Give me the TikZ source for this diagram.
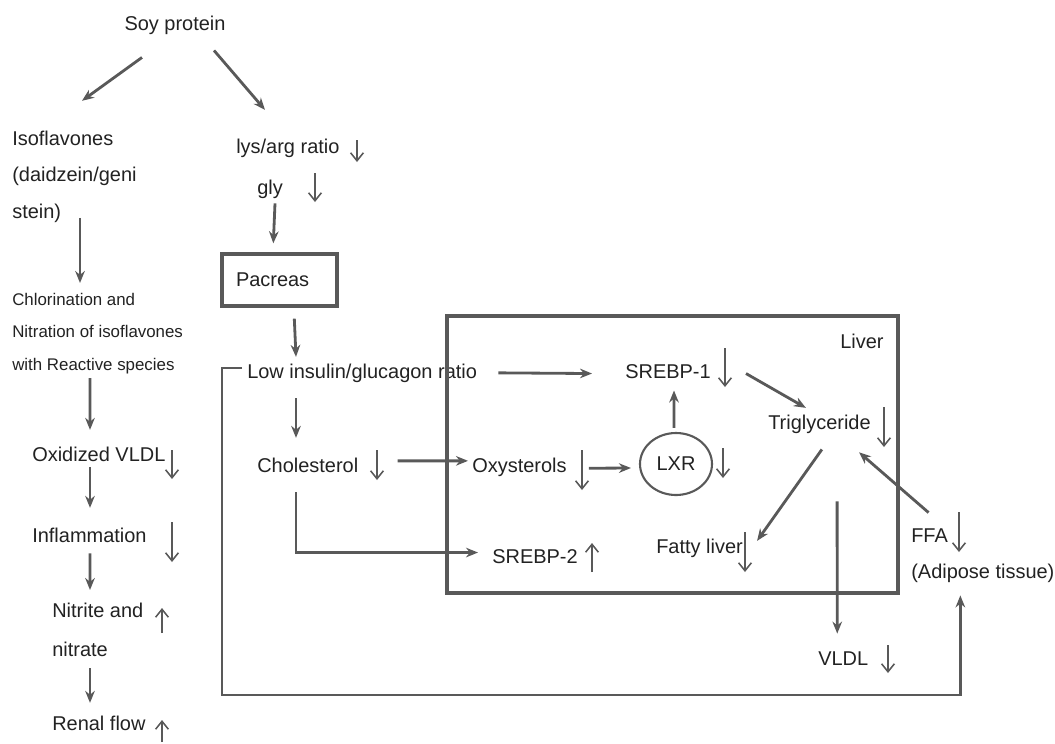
\documentclass[tikz,border=0pt]{standalone}
\usepackage{fontspec}
\setmainfont{Liberation Sans}
\usepackage{tikz}
\usetikzlibrary{arrows.meta,shapes.geometric}
\definecolor{ink}{RGB}{89,89,89}
\definecolor{txtc}{RGB}{34,34,34}

\begin{document}
\begin{tikzpicture}[
  txt/.style={font=\fontsize{14.2}{25.9}\selectfont, text=txtc, inner sep=0pt, align=left},
  small/.style={font=\fontsize{12}{23.1}\selectfont, text=txtc, inner sep=0pt, align=left},
  box/.style={draw=ink, line width=2.4pt, font=\fontsize{14.2}{17}\selectfont, text=txtc, align=left, text width=2.175cm, inner xsep=0.35cm, minimum height=1.3cm},
  arr/.style={-{Stealth[length=3mm,width=2.4mm]}, draw=ink, line width=2pt},
  mk/.style={-{Straight Barb[length=2mm,width=3.2mm]}, draw=ink, line width=1.1pt}]
  \useasboundingbox (0,0) rectangle (26.375,-18.575);
  % left branch
  \node[txt, anchor=base] (soy) at (4.375,-0.75) {Soy protein};
  \node[txt, anchor=north west] (iso) at (0.3,-3.27) {Isoflavones\\(daidzein/geni\\stein)};
  \node[small, anchor=north west] (chl) at (0.3,-7.325) {Chlorination and\\Nitration of isoflavones\\with Reactive species};
  \node[txt, anchor=base west] (oxv) at (0.8,-11.525) {Oxidized VLDL};
  \node[txt, anchor=base west] (inf) at (0.8,-13.55) {Inflammation};
  \node[txt, anchor=north west, font=\fontsize{14.2}{27.7}\selectfont] (nit) at (1.3,-15.075) {Nitrite and\\nitrate};
  \node[txt, anchor=base west] (ren) at (1.3,-18.25) {Renal flow};
  % right branch
  \node[txt, anchor=base west] (lys) at (5.9,-3.825) {lys/arg ratio};
  \node[txt, anchor=base west] (gly) at (6.425,-4.85) {gly};
  \node[box] (pac) at (6.9875,-7.0) {Pacreas};
  \node[txt, anchor=base west] (low) at (6.175,-9.45) {Low insulin/glucagon ratio};
  \node[txt, anchor=base west] (chol) at (6.425,-11.8) {Cholesterol};
  \node[draw=ink, line width=2.4pt, minimum width=11.275cm, minimum height=6.925cm, inner sep=0pt] (liverbox) at (16.8125,-11.3625) {};
  \node[txt, anchor=base west] (liver) at (21.0,-8.7) {Liver};
  \node[txt, anchor=base west] (oxy) at (11.8,-11.8) {Oxysterols};
  \node[txt, anchor=base west] (srebp2) at (12.3,-14.075) {SREBP-2};
  \node[txt, anchor=base west] (srebp1) at (15.625,-9.45) {SREBP-1};
  \node[txt, ellipse, draw=ink, line width=1.5pt, minimum width=1.8cm, minimum height=1.55cm] (lxr) at (16.9,-11.6) {LXR};
  \node[txt, anchor=base west] (trig) at (19.2,-10.725) {Triglyceride};
  \node[txt, anchor=base west] (fatty) at (16.4,-13.825) {Fatty liver};
  \node[txt, anchor=base west] (vldl) at (20.45,-16.625) {VLDL};
  \node[txt, anchor=base west] (ffa) at (22.775,-13.55) {FFA};
  \node[txt, anchor=base west] (adip) at (22.775,-14.45) {(Adipose tissue)};
  % connectors
  \draw[arr] ([shift={(-0.825,-0.575)}]soy.south) -- ([shift={(1.75,0.75)}]iso.north west);
  \draw[arr] ([shift={(0.975,-0.4)}]soy.south) -- ([shift={(0.725,0.71)}]lys.north west);
  \draw[arr] ([shift={(1.7,0.125)}]iso.south west) -- ([shift={(1.7,0.25)}]chl.north west);
  \draw[arr] ([shift={(1.95,-0.1)}]chl.south west) -- ([shift={(1.45,0.41)}]oxv.north west);
  \draw[arr] ([shift={(1.45,-0.15)}]oxv.south west) -- ([shift={(1.45,0.485)}]inf.north west);
  \draw[arr] ([shift={(1.45,-0.275)}]inf.south west) -- ([shift={(0.95,0.325)}]nit.north west);
  \draw[arr] ([shift={(0.95,-0.275)}]nit.south west) -- ([shift={(0.95,0.31)}]ren.north west);
  \draw[arr] ([shift={(0.45,-0.125)}]gly.south west) -- ([shift={(1.325,0.225)}]pac.north west);
  \draw[arr] ([shift={(1.85,-0.275)}]pac.south west) -- ([shift={(1.225,0.16)}]low.north west);
  \draw[arr] ([shift={(1.225,-0.4)}]low.south west) -- ([shift={(0.975,0.485)}]chol.north west);
  \draw[arr] ([shift={(0.975,0.1)}]chol.east) -- ([shift={(-0.1,0.15)}]oxy.west);
  \draw[arr] ([shift={(0.55,-0.035)}]oxy.east) -- ([shift={(-0.2,-0.1)}]lxr.west);
  \draw[arr] ([shift={(-0.05,0.1)}]lxr.north) -- ([shift={(0.15,-0.3)}]srebp1.south);
  \draw[arr] ([shift={(0.525,0)}]low.east) -- ([shift={(-0.825,-0.06)}]srebp1.west);
  \draw[arr] ([shift={(0.875,-0.06)}]srebp1.east) -- ([shift={(-0.34,0.16)}]trig.north);
  \draw[arr] ([shift={(0.06,-0.4)}]trig.south) -- ([shift={(0.35,-0.065)}]fatty.north east);
  \draw[arr] ([shift={(0.44,-1.7)}]trig.south) -- ([shift={(-0.15,0.435)}]vldl.north);
  \draw[arr] ([shift={(-0.025,0.385)}]ffa.north) -- ([shift={(-0.3,-0.47)}]trig.south east);
  \draw[arr] ([shift={(0.975,-0.5)}]chol.south west) |- ([shift={(-0.35,0.09)}]srebp2.west);
  \draw[arr] ([shift={(-0.125,0.12)}]low.west) -- ++(-0.5,0) -- ++(0,-8.175) -| ([shift={(-0.5625,-0.325)}]adip.south);
  % up / down markers
  \foreach \x/\a/\b in {8.925/-3.5/-4.05, 7.875/-4.325/-5.05, 4.3/-11.25/-11.975, 4.3/-13.05/-14.05,
      4.05/-15.825/-15.2, 4.05/-18.55/-18.0, 9.425/-11.25/-12.0, 14.55/-11.25/-12.25,
      14.8/-14.3/-13.575, 18.125/-8.7/-9.675, 18.075/-11.2/-11.95, 22.1/-10.175/-11.175,
      18.625/-13.3/-14.3, 22.2/-16.125/-16.825, 23.975/-12.8/-13.8}
    \draw[mk] (\x,\a) -- (\x,\b);
\end{tikzpicture}
\end{document}
